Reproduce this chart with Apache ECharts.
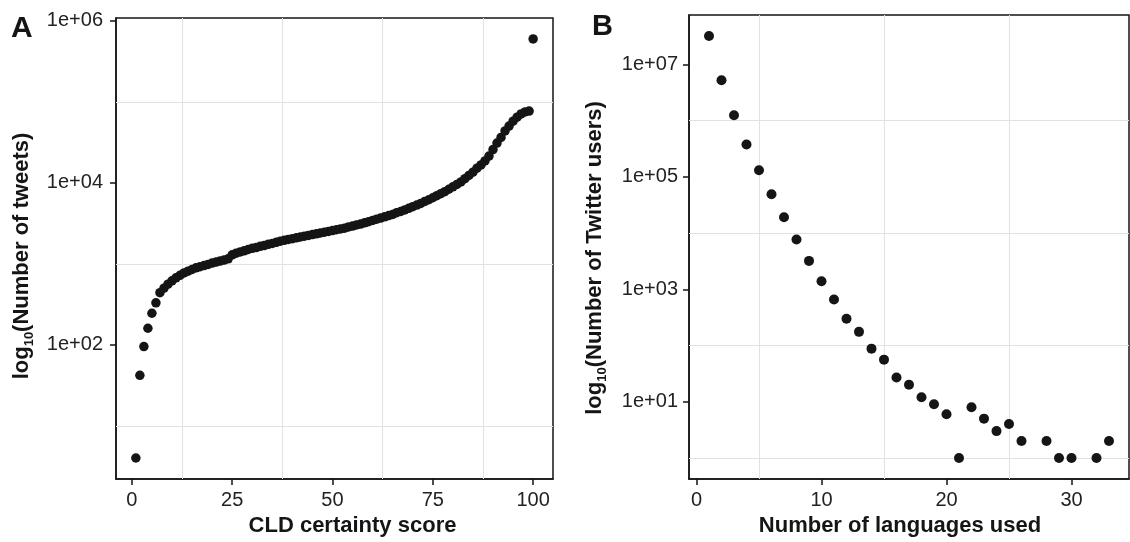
<!DOCTYPE html>
<html>
<head>
<meta charset="utf-8">
<title>CLD certainty / languages per user</title>
<script src="https://cdn.jsdelivr.net/npm/echarts@6/dist/echarts.min.js"></script>
<style>body{margin:0;background:#fff;}</style>
</head>
<body>
<div id="main" style="width:1130px;height:542px;"></div>
<script>
// panel A: number of tweets per CLD certainty score
var scoreA = [1,2,3,4,5,6,7,8,9,10,11,12,13,14,15,16,17,18,19,20,
  21,22,23,24,25,26,27,28,29,30,31,32,33,34,35,36,37,38,39,40,
  41,42,43,44,45,46,47,48,49,50,51,52,53,54,55,56,57,58,59,60,
  61,62,63,64,65,66,67,68,69,70,71,72,73,74,75,76,77,78,79,80,
  81,82,83,84,85,86,87,88,89,90,91,92,93,94,95,96,97,98,99,100];
var tweetsA = [4,42,95,160,245,330,440,500,560,615,670,720,770,810,850,890,920,950,980,1020,
  1050,1080,1110,1150,1290,1350,1400,1445,1500,1550,1585,1640,1680,1740,1780,1840,1900,1950,2000,2040,
  2090,2140,2190,2240,2290,2340,2400,2450,2510,2570,2630,2690,2750,2850,2920,3020,3090,3200,3310,3430,
  3550,3670,3800,3940,4070,4270,4420,4620,4840,5070,5310,5560,5890,6170,6530,6920,7330,7760,8320,8910,
  9550,10230,11220,12300,13490,15140,16600,18620,21380,25700,30900,36300,43650,50100,57500,64600,70800,75000,76700,596000];

// panel B: number of twitter users per number of languages used
var langsB = [1,2,3,4,5,6,7,8,9,10,11,12,13,14,15,16,17,18,19,20,21,22,23,24,25,26,28,29,30,32,33];
var usersB = [32000000,5250000,1250000,377000,131000,49000,19200,7700,3200,1390,
  660,300,175,88,56,27,20,12,9,6,1,8,5,3,4,2,2,1,1,1,2];

var xTicksA = [0,25,50,75,100];
var yTicksA = [1e2,1e4,1e6];
var xTicksB = [0,10,20,30];
var yTicksB = [1e1,1e3,1e5,1e7];
var xGridA = [12.5,37.5,62.5,87.5];
var yGridA = [1e1,1e3,1e5];
var xGridB = [5,15,25];
var yGridB = [1,1e2,1e4,1e6];

var FONT = 'Liberation Sans';
var INK = '#151515';

function lg(v) { return Math.log10(v); }
function sci(e) {
  var n = Math.round(e);
  var a = Math.abs(n);
  return '1e' + (n < 0 ? '-' : '+') + (a < 10 ? '0' : '') + a;
}

function xAxisOf(gi, min, max, ticks, name, pad) {
  return {
    type: 'value', gridIndex: gi, min: min, max: max,
    name: name, nameLocation: 'middle', nameGap: 36,
    nameTextStyle: { fontFamily: FONT, fontSize: 22, fontWeight: 'bold', color: INK, padding: pad },
    axisLine: { show: true, onZero: false, lineStyle: { color: INK, width: 1.5 } },
    axisTick: { show: true, length: 6, customValues: ticks, lineStyle: { color: INK, width: 1.5 } },
    axisLabel: { customValues: ticks, margin: 11, fontFamily: FONT, fontSize: 20, color: '#222' },
    splitLine: { show: false }
  };
}

function yAxisOf(gi, min, max, ticks, name, pad, margin) {
  var lt = ticks.map(lg);
  return {
    type: 'value', gridIndex: gi, min: min, max: max,
    name: name, nameLocation: 'middle', nameGap: 80, nameRotate: 90,
    nameTextStyle: {
      fontFamily: FONT, fontSize: 22, fontWeight: 'bold', color: INK, padding: pad, lineHeight: 28,
      rich: { s: { fontFamily: FONT, fontSize: 13, fontWeight: 'bold', color: INK, verticalAlign: 'bottom', lineHeight: 14 } }
    },
    axisLine: { show: true, onZero: false, lineStyle: { color: INK, width: 1.5 } },
    axisTick: { show: true, length: 6, customValues: lt, lineStyle: { color: INK, width: 1.5 } },
    axisLabel: { customValues: lt, margin: margin, fontFamily: FONT, fontSize: 20, color: '#222', formatter: sci },
    splitLine: { show: false }
  };
}

function gridLines(gi, xs, ys) {
  return {
    type: 'scatter', xAxisIndex: gi, yAxisIndex: gi, data: [], silent: true, z: 1,
    markLine: {
      silent: true, symbol: 'none', animation: false, z: 1, label: { show: false },
      lineStyle: { color: '#e2e2e2', width: 1, type: 'solid' },
      data: xs.map(function (v) { return { xAxis: v }; })
        .concat(ys.map(function (v) { return { yAxis: lg(v) }; }))
    }
  };
}

var chart = echarts.init(document.getElementById('main'));
chart.setOption({
  animation: false,
  backgroundColor: '#fff',
  title: [
    { text: 'A', left: 11, top: 14, padding: 0, textStyle: { fontFamily: FONT, fontSize: 30, fontWeight: 'bold', color: INK } },
    { text: 'B', left: 592, top: 12, padding: 0, textStyle: { fontFamily: FONT, fontSize: 29, fontWeight: 'bold', color: INK } }
  ],
  grid: [
    { left: 116, top: 18, width: 437, height: 465, show: true, borderColor: INK, borderWidth: 1.5, backgroundColor: '#fff' },
    { left: 689, top: 15, width: 440, height: 466, show: true, borderColor: INK, borderWidth: 1.5, backgroundColor: '#fff' }
  ],
  xAxis: [
    xAxisOf(0, -3.95, 104.95, xTicksA, 'CLD certainty score', [0, 0, 0, 36]),
    xAxisOf(1, -0.6, 34.6, xTicksB, 'Number of languages used', [0, 18, 0, 0])
  ],
  yAxis: [
    yAxisOf(0, 0.343, 6.034, yTicksA, 'log{s|10}(Number of tweets)', [0, 15, 0, 0], 13),
    yAxisOf(1, -0.375, 7.88, yTicksB, 'log{s|10}(Number of Twitter users)', [0, 22, 0, 0], 11)
  ],
  series: [
    gridLines(0, xGridA, yGridA),
    gridLines(1, xGridB, yGridB),
    {
      type: 'scatter', xAxisIndex: 0, yAxisIndex: 0, z: 3,
      symbol: 'circle', symbolSize: 9.5,
      itemStyle: { color: INK, opacity: 1 },
      data: scoreA.map(function (s, i) { return [s, lg(tweetsA[i])]; })
    },
    {
      type: 'scatter', xAxisIndex: 1, yAxisIndex: 1, z: 3,
      symbol: 'circle', symbolSize: 10,
      itemStyle: { color: INK, opacity: 1 },
      data: langsB.map(function (n, i) { return [n, lg(usersB[i])]; })
    }
  ]
});
</script>
</body>
</html>
